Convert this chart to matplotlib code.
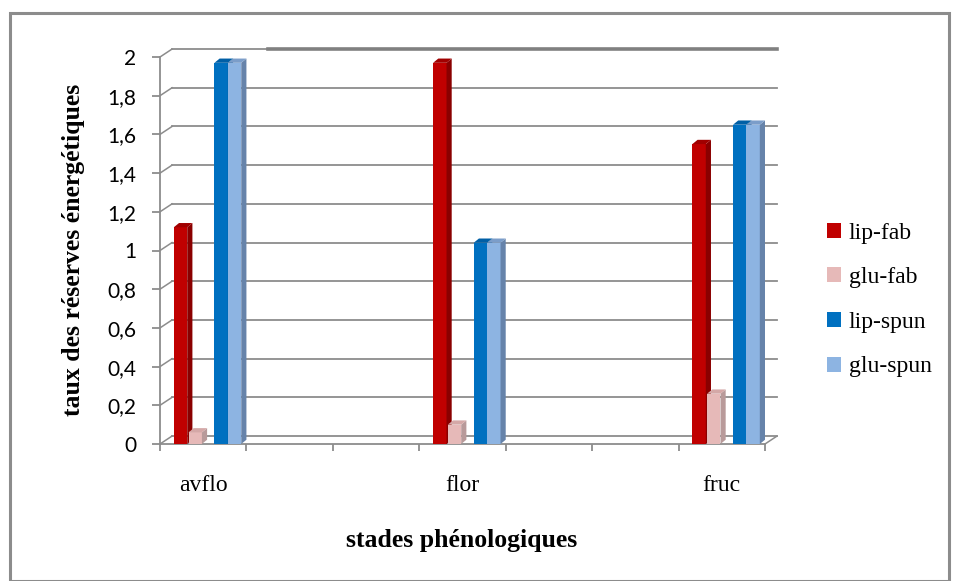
import matplotlib
matplotlib.use("Agg")
import matplotlib.pyplot as plt
from matplotlib.patches import Polygon, Patch, Rectangle
from matplotlib.lines import Line2D

# ── data ──────────────────────────────────────────────────────────────────────
stages = ["avflo", "flor", "fruc"]
stage_slots = [0, 3, 6]          # Excel left two empty slots between stages
series = ["lip-fab", "glu-fab", "lip-spun", "glu-spun"]
lip_fab = [1.12, 1.97, 1.55]
glu_fab = [0.06, 0.10, 0.26]
lip_spun = [1.97, 1.04, 1.65]
glu_spun = [1.97, 1.04, 1.65]
yticks = [0, 0.2, 0.4, 0.6, 0.8, 1, 1.2, 1.4, 1.6, 1.8, 2]
ytick_labels = ["0", "0,2", "0,4", "0,6", "0,8", "1", "1,2", "1,4", "1,6", "1,8", "2"]

# ── style ─────────────────────────────────────────────────────────────────────
front = ["#c00000", "#e6b9b8", "#0070c0", "#8db4e2"]
side = ["#8a0000", "#b89a9a", "#00508c", "#6683aa"]
top = ["#a00000", "#d4a8a7", "#005fa6", "#7b9dc9"]
offsets = [0.16, 0.33, 0.63, 0.785]
bw = 0.155
ddx, ddy = 0.06, 0.022           # bar depth
wdx, wdy = 0.139, 0.041          # back wall offset
grid_c = "#8c8c8c"
serif = "Liberation Serif"

W, H = 957, 581
fig = plt.figure(figsize=(W / 100, H / 100), dpi=100)
fig.patch.set_facecolor("white")
ax = fig.add_axes([160 / W, (H - 444) / H, 605 / W, 387 / H])
ax.set_xlim(0, 7)
ax.set_ylim(0, 2)
ax.set_facecolor("none")
for s in ["top", "right"]:
    ax.spines[s].set_visible(False)
for s in ["left", "bottom"]:
    ax.spines[s].set_color(grid_c)
    ax.spines[s].set_linewidth(1.3)

# back wall gridlines + side diagonals
for v in yticks:
    ax.add_line(Line2D([wdx, 7 + wdx], [v + wdy, v + wdy], color=grid_c, lw=1.3, clip_on=False, zorder=1))
    ax.add_line(Line2D([0, wdx], [v, v + wdy], color=grid_c, lw=1.1, clip_on=False, zorder=1))
ax.add_line(Line2D([1.25, 7 + wdx], [2 + wdy, 2 + wdy], color="#808080", lw=2.6, clip_on=False, zorder=1))
ax.add_line(Line2D([7, 7 + wdx], [0, wdy], color=grid_c, lw=1.1, clip_on=False, zorder=1))

# bars with a simple 3D look
data = [lip_fab, glu_fab, lip_spun, glu_spun]
for i, vals in enumerate(data):
    xs = [s + offsets[i] for s in stage_slots]
    ax.bar(xs, vals, width=bw, align="edge", color=front[i], edgecolor="none",
           label=series[i], zorder=3 + i, clip_on=False)
    for x, v in zip(xs, vals):
        ax.add_patch(Polygon([(x + bw, 0), (x + bw + ddx, ddy), (x + bw + ddx, v + ddy), (x + bw, v)],
                             closed=True, fc=side[i], ec="none", zorder=3 + i, clip_on=False))
        ax.add_patch(Polygon([(x, v), (x + ddx, v + ddy), (x + bw + ddx, v + ddy), (x + bw, v)],
                             closed=True, fc=top[i], ec="none", zorder=3 + i, clip_on=False))

# axes ticks
ax.set_yticks(yticks)
ax.set_yticklabels(ytick_labels, fontfamily="Lato", fontsize=15)
ax.tick_params(axis="y", length=6, width=1.3, color=grid_c, pad=11)
ax.set_xticks(range(8))
ax.set_xticklabels([])
ax.tick_params(axis="x", which="major", length=5, width=1.3, color=grid_c)
ax.set_xticks([s + 0.5 for s in stage_slots], minor=True)
ax.set_xticklabels(stages, minor=True, fontfamily=serif, fontsize=17)
ax.tick_params(axis="x", which="minor", length=0, pad=22)

fig.text(74 / W, 1 - 250 / H, "taux des réserves énergétiques", rotation=90,
         ha="center", va="center", fontfamily=serif, fontweight="bold", fontsize=18.5)
fig.text(462 / W, 1 - 540 / H, "stades phénologiques", ha="center", va="center",
         fontfamily=serif, fontweight="bold", fontsize=18.5)

handles = [Patch(facecolor=front[i], edgecolor="none", label=series[i]) for i in range(4)]
fig.legend(handles=handles, loc="center left", bbox_to_anchor=(806 / W, 1 - 300 / H),
           frameon=False, prop={"family": serif, "size": 17},
           handlelength=0.6, handleheight=0.6, handletextpad=0.3, labelspacing=1.0)

# chart border
fig.patches.append(Rectangle((10 / W, 0.5 / H), 939 / W, (H - 13) / H, transform=fig.transFigure,
                             fill=False, ec="#8c8c8c", lw=2.2))

fig.savefig("out.png", dpi=100, facecolor="white")
